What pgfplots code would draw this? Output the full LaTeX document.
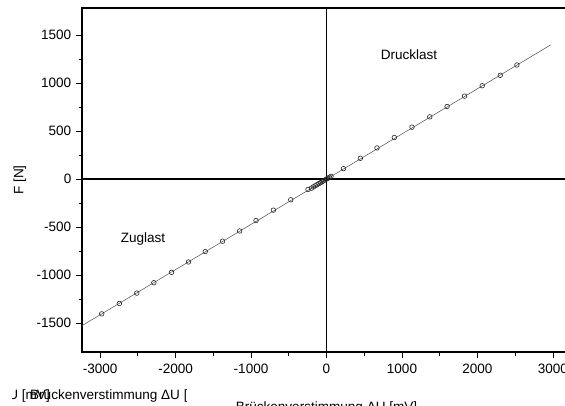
\documentclass[border=0pt]{standalone}
\usepackage{fontspec}
\setmainfont{Liberation Sans}
\usepackage{pgfplots}
\pgfplotsset{compat=1.18}
\newcommand{\lbl}{\fontsize{13.6}{16}\selectfont}
\begin{document}
\lbl
\begin{tikzpicture}[x=1bp,y=1bp]
\useasboundingbox (0,0) rectangle (565,405);
\clip (0,0) rectangle (565,405);
\begin{axis}[
  at={(82bp,53bp)}, anchor=south west,
  scale only axis, width=489bp, height=344bp,
  xmin=-3240, xmax=3240, ymin=-1800, ymax=1780,
  xtick={-3000,-2000,-1000,0,1000,2000,3000},
  ytick={-1500,-1000,-500,0,500,1000,1500},
  minor x tick num=1, minor y tick num=1,
  xtick pos=bottom, ytick pos=left,
  tick align=outside,
  major tick length=6bp, minor tick length=3.5bp,
  tick style={black, line width=0.8bp},
  axis line style={black, line width=1.2bp},
  /pgf/number format/assume math mode=true,
  /pgf/number format/1000 sep={},
  tick label style={font=\lbl},
  xticklabel style={yshift=-1bp},
  ylabel={F [N]},
  every axis y label/.style={at={(axis description cs:-0.127,0.5)}, rotate=90, anchor=center, font=\lbl},
  clip=true,
]
\addplot[black, line width=1.6bp, forget plot] coordinates {(0,-1800) (0,1780)};
\addplot[black, line width=1.2bp, forget plot] coordinates {(-3240,0) (3240,0)};
\addplot[gray!60!black, line width=0.5bp, forget plot] coordinates {(-3240,-1526) (2970,1396)};
\addplot[only marks, mark=o, mark size=2.3bp, mark options={draw=gray!30!black, line width=0.6bp}] coordinates {
(-2979,-1403) (-2745,-1295) (-2514,-1187) (-2288,-1079) (-2054,-971) (-1829,-863)
(-1607,-755) (-1377,-647) (-1151,-540) (-934,-432) (-704,-324) (-474,-216) (-245,-108)
(-200,-95) (-175,-82) (-150,-70) (-125,-59) (-100,-47) (-80,-38) (-60,-28) (-40,-19)
(-20,-9) (0,0) (20,9) (40,19) (60,28)
(225,108) (448,216) (669,324) (899,432) (1133,540) (1368,647) (1598,755) (1829,863)
(2063,971) (2302,1079) (2523,1187)
};
\node[font=\lbl] at (axis cs:1093,1290) {Drucklast};
\node[font=\lbl] at (axis cs:-2432,-624) {Zuglast};
\end{axis}
\node[anchor=base] at (326.5,-6) {Brückenverstimmung ΔU [mV]};
\begin{scope}
\clip (12,0) rectangle (186,405);
\node[anchor=base west, inner sep=0pt] at (30,5.5) {Brückenverstimmung ΔU [mV]};
\node[anchor=base east, inner sep=0pt] at (50,5.5) {Brückenverstimmung ΔU [mV]};
\end{scope}
\end{tikzpicture}
\end{document}
